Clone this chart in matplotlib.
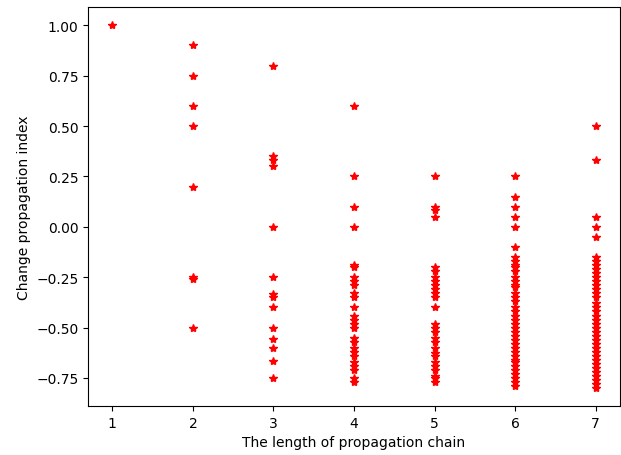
import matplotlib
matplotlib.use("Agg")
import matplotlib.pyplot as plt

# change propagation index per chain length
chain_1 = [1.0]
chain_2 = [0.9, 0.75, 0.6, 0.5, 0.2, -0.25, -0.26, -0.5]
chain_3 = [0.8, 0.35, 0.333, 0.3, 0.0, -0.25, -0.333, -0.35, -0.4, -0.5,
           -0.556, -0.6, -0.667, -0.75]
chain_4 = [0.6, 0.25, 0.1, 0.0, -0.19, -0.2, -0.25, -0.27, -0.29, -0.33,
           -0.35, -0.4, -0.44, -0.46, -0.48, -0.5, -0.55, -0.57, -0.6, -0.62,
           -0.64, -0.67, -0.69, -0.71, -0.75, -0.77]
chain_5 = [0.25, 0.1, 0.083, 0.05, -0.2, -0.22, -0.25, -0.27, -0.29, -0.31,
           -0.33, -0.35, -0.4, -0.48, -0.5, -0.52, -0.55, -0.57, -0.6, -0.625,
           -0.64, -0.67, -0.69, -0.71, -0.74, -0.75, -0.77]
chain_6 = [0.25, 0.15, 0.1, 0.05, 0.0, -0.1, -0.15, -0.17, -0.19, -0.2,
           -0.22, -0.25, -0.27, -0.29, -0.3, -0.33, -0.35, -0.37, -0.4, -0.42,
           -0.44, -0.46, -0.48, -0.5, -0.52, -0.54, -0.56, -0.58, -0.6, -0.62,
           -0.64, -0.66, -0.67, -0.69, -0.71, -0.73, -0.75, -0.77, -0.79]
chain_7 = [0.5, 0.333, 0.05, 0.0, -0.05, -0.15, -0.17, -0.19, -0.21, -0.23,
           -0.25, -0.27, -0.29, -0.31, -0.33, -0.35, -0.38, -0.4, -0.42, -0.44,
           -0.46, -0.48, -0.5, -0.52, -0.54, -0.56, -0.58, -0.6, -0.62, -0.64,
           -0.66, -0.68, -0.7, -0.72, -0.74, -0.76, -0.78, -0.8]

chains = [chain_1, chain_2, chain_3, chain_4, chain_5, chain_6, chain_7]

fig, ax = plt.subplots(figsize=(6.21, 4.56), dpi=100)
fig.subplots_adjust(left=0.142, right=0.998, bottom=0.107, top=0.982)

for length, values in enumerate(chains, start=1):
    ax.plot([length] * len(values), values, "r*")

ax.set_xlabel("The length of propagation chain")
ax.set_ylabel("Change propagation index")

fig.savefig("out.png")
